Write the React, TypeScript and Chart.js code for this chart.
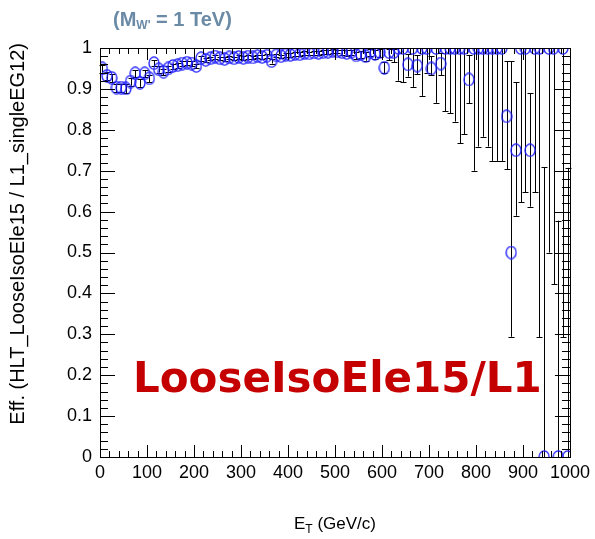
import React, { useEffect, useRef } from "react";
import { Chart, registerables } from "chart.js";

Chart.register(...registerables);

const etBins = [
  5, 15, 25, 35, 45, 55, 65, 75, 85, 95,
  105, 115, 125, 135, 145, 155, 165, 175, 185, 195,
  205, 215, 225, 235, 245, 255, 265, 275, 285, 295,
  305, 315, 325, 335, 345, 355, 365, 375, 385, 395,
  405, 415, 425, 435, 445, 455, 465, 475, 485, 495,
  505, 515, 525, 535, 545, 555, 565, 575, 585, 595,
  605, 615, 625, 635, 645, 655, 665, 675, 685, 695,
  705, 715, 725, 735, 745, 755, 765, 775, 785, 795,
  805, 815, 825, 835, 845, 855, 865, 875, 885, 895,
  905, 915, 925, 935, 945, 955, 965, 975, 985, 995,
];

const efficiency = [
  0.95, 0.932, 0.927, 0.903, 0.903, 0.901, 0.918, 0.938, 0.915, 0.938,
  0.926, 0.963, 0.948, 0.942, 0.95, 0.956, 0.958, 0.962, 0.964, 0.962,
  0.956, 0.975, 0.971, 0.975, 0.979, 0.975, 0.973, 0.977, 0.975, 0.978,
  0.976, 0.979, 0.977, 0.98, 0.978, 0.981, 0.968, 0.982, 0.98, 0.984,
  0.983, 0.986, 0.985, 0.988, 0.987, 0.989, 0.988, 0.99, 0.991, 0.993,
  0.992, 0.99, 0.988, 0.991, 0.982, 0.985, 0.98, 0.99, 0.986, 0.99,
  0.952, 0.99, 0.99, 1.0, 1.0, 0.96, 1.0, 0.957, 1.0, 1.0,
  0.95, 1.0, 0.962, 1.0, 1.0, 1.0, 1.0, 1.0, 0.923, 1.0,
  1.0, 1.0, 1.0, 1.0, 1.0, 1.0, 0.833, 0.5, 0.75, 1.0,
  1.0, 0.75, 1.0, 1.0, 0.0, 1.0, 1.0, 0.0, 1.0, 0.0,
];

const errLow = [
  0.01, 0.01, 0.01, 0.011, 0.011, 0.011, 0.01, 0.009, 0.01, 0.009,
  0.009, 0.008, 0.008, 0.008, 0.008, 0.007, 0.007, 0.007, 0.006, 0.006,
  0.006, 0.006, 0.006, 0.005, 0.005, 0.005, 0.005, 0.005, 0.005, 0.005,
  0.005, 0.005, 0.005, 0.005, 0.005, 0.005, 0.006, 0.005, 0.005, 0.005,
  0.005, 0.005, 0.005, 0.005, 0.005, 0.005, 0.005, 0.005, 0.005, 0.005,
  0.005, 0.006, 0.007, 0.007, 0.009, 0.009, 0.011, 0.01, 0.012, 0.012,
  0.014, 0.02, 0.025, 0.08, 0.084, 0.03, 0.095, 0.021, 0.117, 0.06,
  0.016, 0.134, 0.028, 0.154, 0.16, 0.18, 0.233, 0.211, 0.058, 0.3,
  0.241, 0.217, 0.241, 0.276, 0.276, 0.276, 0.13, 0.206, 0.16, 0.377,
  0.353, 0.138, 0.353, 0.707, 0.0, 0.5, 0.578, 0.0, 0.707, 0.0,
];

const errHigh = [
  0.009, 0.009, 0.009, 0.01, 0.01, 0.01, 0.009, 0.008, 0.009, 0.008,
  0.008, 0.007, 0.007, 0.007, 0.007, 0.006, 0.006, 0.006, 0.005, 0.005,
  0.005, 0.005, 0.005, 0.004, 0.004, 0.004, 0.004, 0.004, 0.004, 0.004,
  0.004, 0.004, 0.004, 0.004, 0.004, 0.004, 0.005, 0.004, 0.004, 0.004,
  0.004, 0.004, 0.004, 0.004, 0.004, 0.004, 0.004, 0.004, 0.004, 0.004,
  0.004, 0.005, 0.006, 0.005, 0.008, 0.007, 0.009, 0.007, 0.008, 0.008,
  0.013, 0.008, 0.008, 0.0, 0.0, 0.025, 0.0, 0.025, 0.0, 0.0,
  0.03, 0.0, 0.025, 0.0, 0.0, 0.0, 0.0, 0.0, 0.06, 0.0,
  0.0, 0.0, 0.0, 0.0, 0.0, 0.0, 0.134, 0.467, 0.166, 0.0,
  0.0, 0.139, 0.0, 0.0, 0.709, 0.0, 0.0, 0.578, 0.0, 0.707,
];

const xTickValues = [0, 100, 200, 300, 400, 500, 600, 700, 800, 900, 1000];
const yTickValues = [0, 0.1, 0.2, 0.3, 0.4, 0.5, 0.6, 0.7, 0.8, 0.9, 1];

const yTitle = "Eff. (HLT_LooseIsoEle15 / L1_singleEG12)";
const bigLabel = "LooseIsoEle15/L1";

const FONT = "'Liberation Sans', Arial, Helvetica, sans-serif";

function makeMarker(): HTMLCanvasElement {
  const c = document.createElement("canvas");
  c.width = 12;
  c.height = 14;
  const g = c.getContext("2d")!;
  g.strokeStyle = "#1f1fff";
  g.lineWidth = 1.3;
  g.beginPath();
  g.ellipse(6, 7, 5, 6.1, 0, 0, Math.PI * 2);
  g.stroke();
  return c;
}

const decorPlugin = {
  id: "rootDecor",
  beforeDatasetsDraw(chart: any) {
    const { ctx } = chart;
    const xs = chart.scales.x;
    const ys = chart.scales.y;
    ctx.save();
    ctx.strokeStyle = "#000";
    ctx.lineWidth = 1;
    for (let i = 0; i < etBins.length; i++) {
      const px = Math.round(xs.getPixelForValue(etBins[i])) + 0.5;
      const yLo = ys.getPixelForValue(efficiency[i] - errLow[i]);
      const yHi = ys.getPixelForValue(efficiency[i] + errHigh[i]);
      ctx.beginPath();
      ctx.moveTo(px, yLo);
      ctx.lineTo(px, yHi);
      if (errLow[i] > 0) {
        ctx.moveTo(px - 3, Math.round(yLo) + 0.5);
        ctx.lineTo(px + 3, Math.round(yLo) + 0.5);
      }
      if (errHigh[i] > 0) {
        ctx.moveTo(px - 3, Math.round(yHi) + 0.5);
        ctx.lineTo(px + 3, Math.round(yHi) + 0.5);
      }
      ctx.stroke();
    }
    ctx.restore();
  },
  afterDraw(chart: any) {
    const { ctx, chartArea } = chart;
    const { left, right, top, bottom } = chartArea;
    const xs = chart.scales.x;
    const ys = chart.scales.y;
    ctx.save();
    ctx.strokeStyle = "#000";
    ctx.lineWidth = 1;
    ctx.strokeRect(Math.round(left) + 0.5, Math.round(top) + 0.5, Math.round(right - left), Math.round(bottom - top));
    ctx.beginPath();
    for (let v = 0; v <= 1000; v += 20) {
      const px = Math.round(xs.getPixelForValue(v)) + 0.5;
      const len = v % 100 === 0 ? 12 : 6;
      ctx.moveTo(px, bottom);
      ctx.lineTo(px, bottom - len);
      ctx.moveTo(px, top);
      ctx.lineTo(px, top + len);
    }
    for (let k = 0; k <= 50; k++) {
      const v = k / 50;
      const py = Math.round(ys.getPixelForValue(v)) + 0.5;
      const len = k % 5 === 0 ? 15 : 8;
      ctx.moveTo(left, py);
      ctx.lineTo(left + len, py);
      ctx.moveTo(right, py);
      ctx.lineTo(right - len, py);
    }
    ctx.stroke();

    // y axis title
    ctx.save();
    ctx.translate(18, top - 5);
    ctx.rotate(-Math.PI / 2);
    ctx.fillStyle = "#000";
    ctx.font = `20px ${FONT}`;
    ctx.textAlign = "right";
    ctx.textBaseline = "middle";
    ctx.fillText(yTitle, 0, 0);
    ctx.restore();

    // x axis title E_T (GeV/c)
    ctx.fillStyle = "#000";
    ctx.textBaseline = "alphabetic";
    ctx.textAlign = "left";
    const mainF = `17px ${FONT}`;
    const subF = `12px ${FONT}`;
    ctx.font = mainF;
    const wE = ctx.measureText("E").width;
    const wRest = ctx.measureText(" (GeV/c)").width;
    ctx.font = subF;
    const wT = ctx.measureText("T").width;
    const total = wE + wT + wRest;
    let x0 = (left + right) / 2 - total / 2;
    const base = 529;
    ctx.font = mainF;
    ctx.fillText("E", x0, base);
    x0 += wE;
    ctx.font = subF;
    ctx.fillText("T", x0, base + 4);
    x0 += wT;
    ctx.font = mainF;
    ctx.fillText(" (GeV/c)", x0, base);

    // header (M_W' = 1 TeV)
    ctx.fillStyle = "#6a8aa6";
    const hF = `bold 20px ${FONT}`;
    const hsF = `bold 12px ${FONT}`;
    let hx = 113;
    const hb = 26;
    ctx.font = hF;
    ctx.fillText("(M", hx, hb);
    hx += ctx.measureText("(M").width;
    ctx.font = hsF;
    ctx.fillText("W'", hx, hb + 3);
    hx += ctx.measureText("W'").width;
    ctx.font = hF;
    ctx.fillText(" = 1 TeV)", hx, hb);

    // big red label
    ctx.fillStyle = "#c40000";
    ctx.font = `bold 42px 'DejaVu Sans', sans-serif`;
    ctx.fillText(bigLabel, 133, 392);
    ctx.restore();
  },
};

export default function App() {
  const ref = useRef<HTMLCanvasElement | null>(null);
  useEffect(() => {
    document.body.style.margin = "0";
    const canvas = ref.current;
    if (!canvas) return;
    const marker = makeMarker();
    const points = etBins.map((x, i) => ({ x, y: efficiency[i] }));
    const chart = new Chart(canvas, {
      type: "scatter",
      data: {
        datasets: [
          {
            data: points,
            pointStyle: marker,
            pointRadius: 6,
            showLine: false,
          } as any,
        ],
      },
      options: {
        animation: false,
        responsive: false,
        events: [],
        layout: { padding: { top: 48, right: 25, left: 0, bottom: 0 } },
        plugins: { legend: { display: false }, tooltip: { enabled: false } },
        scales: {
          x: {
            type: "linear",
            min: 0,
            max: 1000,
            afterFit: (s: any) => {
              s.height = 82;
            },
            afterBuildTicks: (s: any) => {
              s.ticks = xTickValues.map((v) => ({ value: v }));
            },
            grid: { display: false, drawTicks: false },
            border: { display: false },
            ticks: {
              padding: 5,
              color: "#000",
              font: { family: FONT, size: 18 },
              maxRotation: 0,
              autoSkip: false,
              callback: (v: any) => String(v),
            },
          },
          y: {
            type: "linear",
            min: 0,
            max: 1,
            afterFit: (s: any) => {
              s.width = 100;
            },
            afterBuildTicks: (s: any) => {
              s.ticks = yTickValues.map((v) => ({ value: v }));
            },
            grid: { display: false, drawTicks: false },
            border: { display: false },
            ticks: {
              padding: 8,
              color: "#000",
              font: { family: FONT, size: 18 },
              autoSkip: false,
              callback: (v: any) => String(Math.round(v * 10) / 10),
            },
          },
        },
      },
      plugins: [decorPlugin],
    });
    return () => chart.destroy();
  }, []);
  return (
    <div style={{ width: 595, height: 539, background: "#fff" }}>
      <canvas ref={ref} width={595} height={539} style={{ display: "block" }} />
    </div>
  );
}
